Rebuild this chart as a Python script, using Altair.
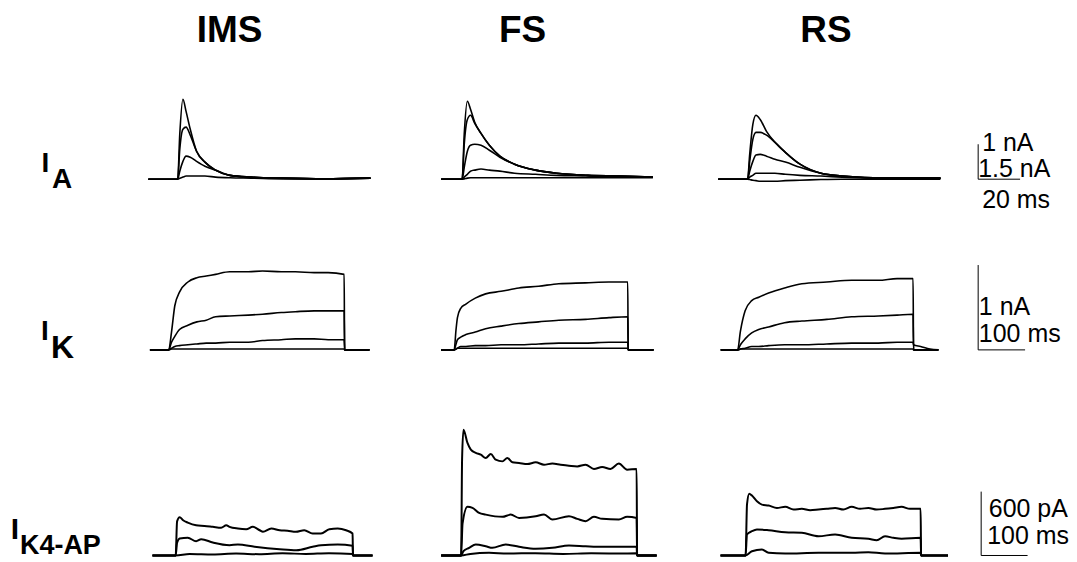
import altair as alt
import pandas as pd

FONT = "Liberation Sans"

COLUMN_TITLES = ["IMS", "FS", "RS"]
ROW_MAIN = ["I", "I", "I"]
ROW_SUB = ["A", "K", "K4-AP"]

# ---------------- Row 1: I_A  (time in ms from step onset, current in nA)
IA_IMS_T = [-14, 0, 1, 2.5, 4, 6, 9, 13, 18, 25, 35, 50, 70, 92]
IA_IMS_1 = [0, 0, 1.29, 2.29, 1.94, 1.43, 0.80, 0.49, 0.26, 0.11, 0.06, 0.03, 0.01, 0.03]
IA_IMS_2 = [0, 0, 0.86, 1.43, 1.49, 1.26, 0.80, 0.49, 0.26, 0.11, 0.06, 0.03, 0.01, 0.03]
IA_IMS_3 = [0, 0, 0.23, 0.51, 0.66, 0.63, 0.51, 0.37, 0.26, 0.11, 0.06, 0.03, 0.01, 0.03]
IA_IMS_4 = [0, 0, 0.03, 0.06, 0.09, 0.09, 0.09, 0.09, 0.06, 0.04, 0.03, 0.01, 0.01, 0.03]

IA_FS_T = [-10, 0, 1, 2.5, 4, 6, 9, 13, 18, 25, 35, 45, 60, 75, 91]
IA_FS_1 = [0, 0, 1.29, 2.23, 2.0, 1.63, 1.31, 0.97, 0.66, 0.43, 0.26, 0.17, 0.11, 0.09, 0.06]
IA_FS_2 = [0, 0, 1.0, 1.71, 1.83, 1.6, 1.31, 0.97, 0.66, 0.43, 0.26, 0.17, 0.11, 0.09, 0.06]
IA_FS_3 = [0, 0, 0.34, 0.8, 0.97, 1.0, 0.97, 0.83, 0.63, 0.43, 0.26, 0.17, 0.11, 0.09, 0.06]
IA_FS_4 = [0, 0, 0.06, 0.14, 0.23, 0.26, 0.29, 0.26, 0.23, 0.17, 0.14, 0.11, 0.09, 0.06, 0.06]
IA_FS_5 = [0, 0, 0.01, 0.03, 0.04, 0.04, 0.04, 0.04, 0.04, 0.04, 0.04, 0.04, 0.04, 0.04, 0.04]

IA_RS_T = [-14, 0, 1, 2.5, 4, 6, 9, 13, 18, 25, 35, 45, 60, 75, 92]
IA_RS_1 = [0, 0, 0.71, 1.57, 1.83, 1.71, 1.37, 1.06, 0.77, 0.43, 0.17, 0.09, 0.04, 0.03, 0.03]
IA_RS_2 = [0, 0, 0.51, 1.14, 1.34, 1.34, 1.26, 1.06, 0.77, 0.43, 0.17, 0.09, 0.04, 0.03, 0.03]
IA_RS_3 = [0, 0, 0.23, 0.51, 0.69, 0.71, 0.66, 0.57, 0.49, 0.34, 0.17, 0.09, 0.04, 0.03, 0.03]
IA_RS_4 = [0, 0, 0.06, 0.11, 0.17, 0.17, 0.17, 0.17, 0.14, 0.11, 0.09, 0.06, 0.03, 0.03, 0.03]
IA_RS_5 = [0, 0, -0.01, -0.03, -0.04, -0.06, -0.06, -0.06, -0.04, -0.03, -0.01, 0, 0, 0, 0]

# ---------------- Row 2: I_K  (ms, nA)
IK_IMS_T = [-40, 0, 6, 13, 23, 41, 60, 80, 100, 130, 170, 200, 240, 270, 310, 340, 374, 375, 400, 428]
IK_IMS_1 = [0, 0, 0.21, 0.52, 0.68, 0.80, 0.85, 0.87, 0.89, 0.92, 0.92, 0.93, 0.92, 0.92, 0.91, 0.91, 0.89, 0, 0, 0]
IK_IMS_2 = [0, 0, 0.09, 0.16, 0.24, 0.29, 0.33, 0.35, 0.39, 0.40, 0.41, 0.42, 0.44, 0.45, 0.46, 0.46, 0.46, 0, 0, 0]
IK_IMS_3 = [0, 0, 0.02, 0.04, 0.05, 0.06, 0.07, 0.08, 0.08, 0.09, 0.09, 0.11, 0.12, 0.13, 0.13, 0.12, 0.12, 0, 0, 0]
IK_IMS_4 = [0, 0, 0.01, 0.01, 0.01, 0.01, 0.01, 0.01, 0.01, 0.01, 0.01, 0.01, 0.01, 0.01, 0.01, 0.01, 0.01, 0, 0, 0]

IK_FS_T = [-28, 0, 4, 7, 14, 25, 45, 67, 100, 138, 180, 223, 280, 330, 370, 371, 400, 425]
IK_FS_1 = [0, 0, 0.24, 0.38, 0.49, 0.54, 0.61, 0.66, 0.69, 0.73, 0.75, 0.78, 0.79, 0.80, 0.80, 0, 0, 0]
IK_FS_2 = [0, 0, 0.07, 0.12, 0.15, 0.18, 0.21, 0.25, 0.28, 0.31, 0.33, 0.35, 0.36, 0.38, 0.39, 0, 0, 0]
IK_FS_3 = [0, 0, 0.01, 0.02, 0.04, 0.04, 0.05, 0.05, 0.06, 0.06, 0.07, 0.08, 0.08, 0.09, 0.09, 0, 0, 0]
IK_FS_4 = [0, 0, 0.01, 0.02, 0.02, 0.02, 0.02, 0.02, 0.02, 0.02, 0.02, 0.02, 0.02, 0.02, 0.02, 0, 0, 0]

IK_RS_T = [-36, 0, 6, 16, 30, 45, 66, 100, 137, 190, 243, 300, 340, 374, 375, 390, 410, 428]
IK_RS_1 = [0, 0, 0.22, 0.46, 0.58, 0.62, 0.67, 0.73, 0.78, 0.80, 0.82, 0.82, 0.84, 0.84, 0, 0, 0, 0]
IK_RS_2 = [0, 0, 0.06, 0.13, 0.20, 0.24, 0.27, 0.32, 0.34, 0.36, 0.39, 0.40, 0.41, 0.42, 0, 0, 0, 0]
IK_RS_3 = [0, 0, 0.01, 0.02, 0.04, 0.04, 0.05, 0.06, 0.06, 0.07, 0.08, 0.08, 0.09, 0.09, 0.06, 0.04, 0.01, 0]
IK_RS_4 = [0, 0, 0.01, 0.01, 0.01, 0.01, 0.01, 0.01, 0.01, 0.01, 0.01, 0.01, 0.01, 0.01, 0, 0, 0, 0]

# ---------------- Row 3: I_K4-AP  (ms, pA)
I4_IMS_1_T = [-50, 0, 3, 8.6, 16, 26, 44, 62, 80, 98, 109, 116, 134, 152, 166, 181, 188, 206, 224,
              241, 259, 277, 295, 313, 331, 349, 367, 381, 382, 400, 424]
I4_IMS_1 = [0, 0, 320, 359, 331, 309, 284, 278, 269, 260, 284, 269, 253, 247, 269, 237, 222, 253, 237,
            232, 222, 237, 206, 206, 247, 253, 237, 206, 0, 0, 0]
I4_IMS_2_T = [-50, 0, 3, 8.6, 26, 44, 55, 80, 116, 134, 170, 224, 260, 295, 313, 349, 381, 382, 400, 424]
I4_IMS_2 = [0, 0, 120, 159, 166, 134, 153, 122, 97, 103, 82, 59, 50, 82, 97, 103, 91, 0, 0, 0]
I4_IMS_3_T = [-50, 0, 30, 80, 130, 180, 230, 280, 330, 381, 382, 424]
I4_IMS_3 = [0, 0, 15, 10, 18, 12, 20, 15, 22, 15, 0, 0]

I4_FS_1_T = [-43, 0, 2, 5, 13.6, 20.8, 31.5, 42.3, 53, 63.8, 74.5, 88.9, 99.6, 110.4, 124.7, 142.6,
             160.5, 178.5, 196.4, 214.3, 232.2, 250.1, 268, 286, 303.8, 321.8, 339.7, 357.6, 378, 379, 400, 421]
I4_FS_1 = [0, 0, 900, 1181, 1057, 994, 963, 947, 916, 953, 900, 884, 916, 875, 869, 859,
           875, 853, 863, 853, 844, 837, 853, 813, 831, 813, 863, 806, 813, 0, 0, 0]
I4_FS_2_T = [-43, 0, 3, 13.6, 24.4, 38.7, 53, 88.9, 106.8, 124.7, 160.5, 178.5, 196.4, 232.2, 250.1,
             268, 286, 303.8, 339.7, 357.6, 378, 379, 400, 421]
I4_FS_2 = [0, 0, 300, 457, 447, 400, 384, 363, 384, 353, 368, 384, 338, 368, 344,
           322, 363, 344, 338, 363, 353, 0, 0, 0]
I4_FS_3_T = [-43, 0, 5, 17.2, 31.5, 53, 67.3, 96, 124.7, 160.5, 196.4, 232.2, 268, 303.8, 339.7, 378, 379, 400, 421]
I4_FS_3 = [0, 0, 40, 72, 103, 87, 72, 103, 82, 63, 72, 94, 87, 82, 82, 82, 0, 0, 0]
I4_FS_4_T = [-43, 0, 20, 60, 100, 160, 220, 280, 340, 378, 379, 421]
I4_FS_4 = [0, 0, 15, 25, 18, 22, 15, 20, 18, 20, 0, 0]

I4_RS_1_T = [-54, 0, 3, 7.9, 13.6, 24.4, 35.1, 49.5, 67.4, 85.3, 103.2, 121.1, 139, 157, 174.8,
             192.8, 210.7, 228.6, 246.5, 264.5, 282.4, 300.3, 318.2, 336, 354, 377, 378, 400, 436]
I4_RS_1 = [0, 0, 480, 581, 563, 509, 478, 469, 447, 457, 431, 438, 425, 431, 438,
           447, 431, 457, 438, 447, 431, 438, 447, 457, 438, 438, 0, 0, 0]
I4_RS_2_T = [-54, 0, 2.9, 13.6, 24.4, 49.5, 85.3, 121.1, 157, 192.8, 228.6, 264.5, 282.4, 300.3,
             318.2, 336, 377, 378, 400, 436]
I4_RS_2 = [0, 0, 197, 228, 244, 237, 218, 213, 181, 197, 166, 157, 143, 181, 166, 157, 166, 0, 0, 0]
I4_RS_3_T = [-54, 0, 13.6, 35.1, 49.5, 85.3, 157, 228.6, 264.5, 300.3, 377, 378, 436]
I4_RS_3 = [0, 0, 40, 56, 25, 19, 25, 25, 31, 19, 25, 0, 0]

# ---------------- Scale bars
SCALE_TIME = [20, 100, 100]        # ms
SCALE_AMP = [1, 1, 600]            # nA, nA, pA
SCALE_TEXT = [["1 nA", "1.5 nA", "20 ms"], ["1 nA", "100 ms"], ["600 pA", "100 ms"]]

# ================= layout (pixels) =================
COL_W = [132, 260, 300, 260, 109]
ROW_H = [207, 160, 187]
MS_PER_PX = [20 / 42, 100 / 47, 2.15]
AMP_PER_PX = [1 / 35, 1 / 85, 9.375]
ONSET_PX = [[38, 63, 49, 20], [29, 55, 39, 20], [36, 62, 47, 23]]
BASE_PX = [36, 25, 6]
# label anchors in the scale column (time, amplitude)
SCALE_TEXT_POS = [[(1.9, 0.8), (0.0, 0.057), (1.9, -0.83)],
                  [(1.5, 0.41), (1.5, 0.094)],
                  [(16.5, 366), (12.9, 112)]]


def xdom(row, col):
    r = MS_PER_PX[row]
    o = ONSET_PX[row][col]
    return [-o * r, (COL_W[col + 1] - o) * r]


def ydom(row):
    k = AMP_PER_PX[row]
    return [-BASE_PX[row] * k, (ROW_H[row] - BASE_PX[row]) * k]


def traces_chart(traces, xd, yd, sw):
    frames = []
    for n, (ts, vs) in enumerate(traces):
        frames.append(pd.DataFrame({"t": ts, "v": vs, "trace": n, "o": list(range(len(ts)))}))
    df = pd.concat(frames, ignore_index=True)
    return alt.Chart(df).mark_line(
        color="black", strokeWidth=sw, interpolate="monotone", strokeJoin="round"
    ).encode(
        x=alt.X("t:Q", scale=alt.Scale(domain=xd, nice=False, zero=False), axis=None),
        y=alt.Y("v:Q", scale=alt.Scale(domain=yd, nice=False, zero=False), axis=None),
        detail="trace:N",
        order="o:Q",
    )


def text_mark(s, x, y, size, align="left", weight="bold"):
    return alt.Chart(alt.Data(values=[{"s": s}])).mark_text(
        align=align, baseline="alphabetic", font=FONT, fontSize=size,
        fontWeight=weight, color="black"
    ).encode(text="s:N", x=alt.value(x), y=alt.value(y))


def scale_panel(row):
    xd = xdom(row, 3)
    yd = ydom(row)
    xs = alt.Scale(domain=xd, nice=False, zero=False)
    ys = alt.Scale(domain=yd, nice=False, zero=False)
    bar = pd.DataFrame({"t": [0], "t2": [SCALE_TIME[row]], "v": [0], "v2": [SCALE_AMP[row]]})
    vert = alt.Chart(bar).mark_rule(color="black", strokeWidth=1).encode(
        x=alt.X("t:Q", scale=xs, axis=None), y=alt.Y("v:Q", scale=ys, axis=None), y2="v2:Q")
    horiz = alt.Chart(bar).mark_rule(color="black", strokeWidth=1).encode(
        x=alt.X("t:Q", scale=xs, axis=None), x2="t2:Q", y=alt.Y("v:Q", scale=ys, axis=None))
    lab = pd.DataFrame({
        "s": SCALE_TEXT[row],
        "t": [p[0] for p in SCALE_TEXT_POS[row]],
        "v": [p[1] for p in SCALE_TEXT_POS[row]],
    })
    txt = alt.Chart(lab).mark_text(
        align="left", baseline="alphabetic", font=FONT, fontSize=25, color="black"
    ).encode(x=alt.X("t:Q", scale=xs, axis=None), y=alt.Y("v:Q", scale=ys, axis=None), text="s:N")
    return alt.layer(vert, horiz, txt).properties(width=COL_W[4], height=ROW_H[row])


# row label panels
LABEL_LAYOUT = [
    [(37.5, 164, 28, "center"), (44, 180, 28, "left")],
    [(37, 125, 28, "center"), (43, 143, 32, "left")],
    [(7, 164, 30, "center"), (12, 180, 27, "left")],
]


def label_panel(row):
    marks = []
    for (x, y, size, align), txt in zip(LABEL_LAYOUT[row], [ROW_MAIN[row], ROW_SUB[row]]):
        marks.append(text_mark(txt, x, y, size, align))
    return alt.layer(*marks).properties(width=COL_W[0], height=ROW_H[row])


ROW_TRACES = [
    [
        [(IA_IMS_T, IA_IMS_1), (IA_IMS_T, IA_IMS_2), (IA_IMS_T, IA_IMS_3), (IA_IMS_T, IA_IMS_4)],
        [(IA_FS_T, IA_FS_1), (IA_FS_T, IA_FS_2), (IA_FS_T, IA_FS_3), (IA_FS_T, IA_FS_4), (IA_FS_T, IA_FS_5)],
        [(IA_RS_T, IA_RS_1), (IA_RS_T, IA_RS_2), (IA_RS_T, IA_RS_3), (IA_RS_T, IA_RS_4), (IA_RS_T, IA_RS_5)],
    ],
    [
        [(IK_IMS_T, IK_IMS_1), (IK_IMS_T, IK_IMS_2), (IK_IMS_T, IK_IMS_3), (IK_IMS_T, IK_IMS_4)],
        [(IK_FS_T, IK_FS_1), (IK_FS_T, IK_FS_2), (IK_FS_T, IK_FS_3), (IK_FS_T, IK_FS_4)],
        [(IK_RS_T, IK_RS_1), (IK_RS_T, IK_RS_2), (IK_RS_T, IK_RS_3), (IK_RS_T, IK_RS_4)],
    ],
    [
        [(I4_IMS_1_T, I4_IMS_1), (I4_IMS_2_T, I4_IMS_2), (I4_IMS_3_T, I4_IMS_3)],
        [(I4_FS_1_T, I4_FS_1), (I4_FS_2_T, I4_FS_2), (I4_FS_3_T, I4_FS_3), (I4_FS_4_T, I4_FS_4)],
        [(I4_RS_1_T, I4_RS_1), (I4_RS_2_T, I4_RS_2), (I4_RS_3_T, I4_RS_3)],
    ],
]
STROKE = [1.6, 1.6, 2.0]
TITLE_X = [90, 123.5, 127.5]

rows = []
for r in range(3):
    panels = [label_panel(r)]
    for c in range(3):
        ch = traces_chart(ROW_TRACES[r][c], xdom(r, c), ydom(r), STROKE[r])
        if r == 0:
            ch = alt.layer(ch, text_mark(COLUMN_TITLES[c], TITLE_X[c], 34, 37, "center"))
        panels.append(ch.properties(width=COL_W[c + 1], height=ROW_H[r]))
    panels.append(scale_panel(r))
    rows.append(alt.hconcat(*panels, spacing=0, bounds="flush"))

chart = alt.VConcatChart(vconcat=rows, spacing=0, bounds="full", padding=0).configure_view(stroke=None)

chart.save("out.html", embed_options={"renderer": "svg", "actions": False})
